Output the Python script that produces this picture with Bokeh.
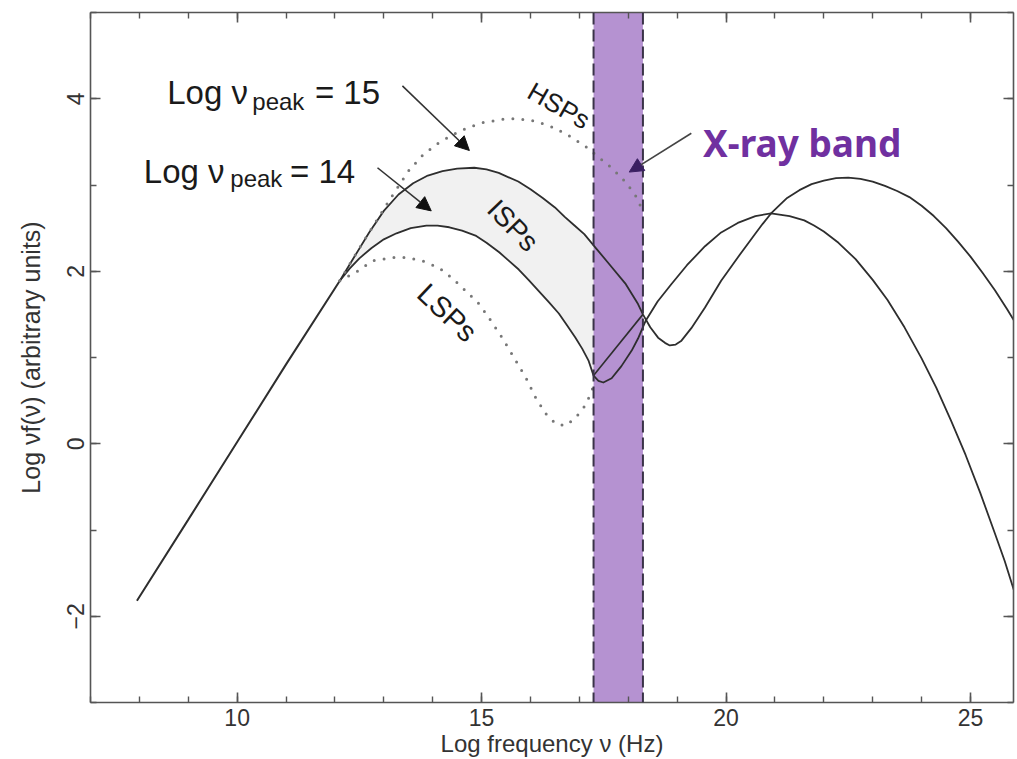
from bokeh.plotting import figure
from bokeh.models import (Range1d, FixedTicker, LinearAxis, Label, Arrow, NormalHead, Span,
                          CustomLabelingPolicy)
from bokeh.embed import file_html
from bokeh.resources import INLINE

# ---------------- data ----------------
X_TICKS = [10, 15, 20, 25]
X_MINOR = list(range(7, 27))
Y_TICKS = [-2, 0, 2, 4]
Y_MINOR = list(range(-3, 6))

# shared low-frequency power law
POWER_X = [7.95, 9.0, 10.0, 11.0, 12.1]
POWER_Y = [-1.82, -0.88, 0.02, 0.92, 1.89]

# Log nu_peak = 15 (upper solid) incl. IC hump
HIGH_X = [12.1, 12.4, 12.7, 13.0, 13.3, 13.6, 13.9, 14.2, 14.5, 14.85, 15.1, 15.35, 15.75,
          16.0, 16.25, 16.5, 16.7, 16.9, 17.1, 17.35, 17.6, 17.95, 18.2, 18.3, 18.45, 18.61,
          18.75, 18.85, 18.97, 19.08, 19.29, 19.57, 19.9, 20.24, 20.59, 20.75, 20.92, 21.1,
          21.25, 21.5, 21.75, 22.0, 22.25, 22.5, 22.75, 23.0, 23.25, 23.5, 23.75, 24.0, 24.25,
          24.5, 24.75, 25.0, 25.25, 25.5, 25.75, 25.89]
HIGH_Y = [1.89, 2.17, 2.45, 2.70, 2.89, 3.02, 3.11, 3.16, 3.19, 3.20, 3.18, 3.14, 3.04,
          2.95, 2.85, 2.74, 2.63, 2.53, 2.43, 2.26, 2.09, 1.85, 1.62, 1.50, 1.35, 1.23,
          1.17, 1.14, 1.15, 1.19, 1.34, 1.58, 1.89, 2.16, 2.43, 2.55, 2.67, 2.77,
          2.85, 2.94, 3.01, 3.05, 3.08, 3.085, 3.07, 3.04, 2.99, 2.93, 2.86, 2.76, 2.64,
          2.50, 2.34, 2.17, 1.98, 1.78, 1.56, 1.43]

# Log nu_peak = 14 (lower solid) incl. IC hump
LOW_X = [12.1, 12.3, 12.5, 12.75, 13.0, 13.26, 13.55, 13.87, 14.1, 14.34, 14.6, 14.89, 15.1,
         15.36, 15.56, 15.76, 15.96, 16.17, 16.38, 16.58, 16.75, 16.92, 17.06, 17.19, 17.29,
         17.39, 17.49, 17.66, 17.86, 18.07, 18.2, 18.35, 18.6, 18.88, 19.2, 19.57, 19.9,
         20.24, 20.6, 20.92, 21.3, 21.6, 21.8, 22.0, 22.3, 22.65, 23.0, 23.3, 23.65, 24.0,
         24.3, 24.6, 24.9, 25.2, 25.5, 25.7, 25.89]
LOW_Y = [1.89, 2.03, 2.15, 2.27, 2.37, 2.44, 2.50, 2.53, 2.53, 2.51, 2.47, 2.41, 2.33,
         2.22, 2.12, 2.02, 1.90, 1.77, 1.64, 1.51, 1.37, 1.23, 1.10, 0.96, 0.79,
         0.73, 0.71, 0.76, 0.90, 1.08, 1.22, 1.42, 1.65, 1.85, 2.07, 2.29, 2.45,
         2.56, 2.64, 2.67, 2.64, 2.59, 2.53, 2.46, 2.33, 2.14, 1.90, 1.67, 1.35, 0.99,
         0.65, 0.27, -0.13, -0.57, -1.04, -1.36, -1.70]

# HSPs (dotted, upper)
HSP_X = [12.1, 12.5, 12.9, 13.2, 13.5, 13.8, 14.1, 14.4, 14.7, 15.0, 15.4, 15.72, 16.1, 16.5,
         16.85, 17.17, 17.4, 17.66, 17.9, 18.13, 18.3]
HSP_Y = [1.89, 2.27, 2.63, 2.90, 3.16, 3.35, 3.48, 3.58, 3.66, 3.72, 3.76, 3.77, 3.74, 3.66,
         3.55, 3.43, 3.32, 3.20, 3.06, 2.90, 2.70]

# LSPs (dotted, lower)
LSP_X = [12.1, 12.46, 12.77, 13.18, 13.46, 13.79, 14.13, 14.40, 14.68, 14.95, 15.15, 15.42,
         15.62, 15.91, 16.11, 16.31, 16.52, 16.72, 16.92, 17.09, 17.19, 17.27]
LSP_Y = [1.89, 2.00, 2.12, 2.16, 2.16, 2.12, 2.04, 1.92, 1.77, 1.62, 1.46, 1.23,
         1.04, 0.76, 0.53, 0.35, 0.23, 0.21, 0.30, 0.42, 0.53, 0.64]

# X-ray band (log Hz)
BAND = [17.29, 18.3]

# ---------------- figure ----------------
FONT = "Liberation Sans"
AX_COL = "#555555"
TXT_COL = "#333333"
LINE_COL = "#2e2e2e"

p = figure(width=1017, height=759, output_backend="svg", toolbar_location=None,
           x_range=Range1d(7, 25.88), y_range=Range1d(-3, 5),
           min_border_left=90, min_border_top=12, min_border_right=0, min_border_bottom=0,
           x_axis_label="Log frequency ν (Hz)", y_axis_label="Log νf(ν) (arbitrary units)")
p.grid.visible = False
p.outline_line_color = None
p.background_fill_color = "white"
p.border_fill_color = "white"

p.add_layout(LinearAxis(), "above")
p.add_layout(LinearAxis(), "right")

for ax in p.xaxis:
    ax.ticker = FixedTicker(ticks=X_TICKS, minor_ticks=X_MINOR)
for ax in p.yaxis:
    ax.ticker = FixedTicker(ticks=Y_TICKS, minor_ticks=Y_MINOR)

for ax in p.axis:
    ax.axis_line_color = AX_COL
    ax.axis_line_width = 1.6
    ax.major_tick_line_color = AX_COL
    ax.major_tick_line_width = 1.6
    ax.minor_tick_line_color = AX_COL
    ax.minor_tick_line_width = 1.4
    ax.major_tick_in = 10
    ax.major_tick_out = 0
    ax.minor_tick_in = 6
    ax.minor_tick_out = 0
    ax.major_label_text_font = FONT
    ax.major_label_text_font_size = "23px"
    ax.major_label_text_color = TXT_COL
    ax.axis_label_text_font = FONT
    ax.axis_label_text_font_style = "normal"
    ax.axis_label_text_color = TXT_COL

# mirrored axes: ticks only, no labels
for ax in (p.above[0], p.right[0]):
    ax.major_label_text_font_size = "1px"
    ax.major_label_standoff = 0
    ax.major_label_policy = CustomLabelingPolicy(code="return []")
    ax.axis_label = None

p.below[0].major_label_standoff = 6
p.below[0].axis_label_standoff = 1
p.below[0].axis_label_text_font_size = "24px"
p.left[0].major_label_orientation = "vertical"
p.left[0].major_label_standoff = 7
p.left[0].axis_label_standoff = 19
p.left[0].axis_label_text_font_size = "25px"

# ---------------- ISP shaded region ----------------
hi_pts = [(x, y) for x, y in zip(HIGH_X, HIGH_Y) if x <= BAND[1]]
lo_pts = [(x, y) for x, y in zip(LOW_X, LOW_Y) if x <= BAND[0]]
poly = hi_pts + lo_pts[::-1]
p.patch([q[0] for q in poly], [q[1] for q in poly], fill_color="#f1f1f1", line_color=None)

# ---------------- X-ray band ----------------
p.quad(left=[BAND[0]], right=[BAND[1]], bottom=[-3], top=[5],
       fill_color="#b592d1", line_color=None)

# ---------------- curves ----------------
p.line(POWER_X, POWER_Y, line_color=LINE_COL, line_width=2)
p.line(HIGH_X, HIGH_Y, line_color=LINE_COL, line_width=1.8, line_join="round")
p.line(LOW_X, LOW_Y, line_color=LINE_COL, line_width=1.8, line_join="round")
# straight edge closing the ISP region
p.line([hi_pts[-1][0], lo_pts[-1][0]], [hi_pts[-1][1], lo_pts[-1][1]],
       line_color=LINE_COL, line_width=1.6)
p.line(HSP_X, HSP_Y, line_color="#777777", line_width=3, line_dash="0 10", line_cap="round")
p.line(LSP_X, LSP_Y, line_color="#777777", line_width=3, line_dash="0 10", line_cap="round")

# dashed band edges
for xb in BAND:
    p.add_layout(Span(location=xb, dimension="height", line_color="#3a3348",
                      line_width=2, line_dash="12 5"))

# ---------------- annotations ----------------
def lab(x, y, t, size, **kw):
    opts = dict(x=x, y=y, text=t, text_font=FONT, text_font_size=size,
                text_color="#1a1a1a", text_align="left", text_baseline="alphabetic")
    opts.update(kw)
    p.add_layout(Label(**opts))

lab(8.57, 4.07, "Log ν", "33px")
lab(10.31, 3.97, "peak", "24px")
lab(11.59, 4.07, "= 15", "33px")

lab(8.09, 3.16, "Log ν", "33px")
lab(9.86, 3.07, "peak", "24px")
lab(11.08, 3.16, "= 14", "33px")

lab(16.58, 3.92, "HSPs", "26px", text_align="center", text_baseline="middle", angle=-0.52)
lab(15.64, 2.53, "ISPs", "28px", text_align="center", text_baseline="middle", angle=-0.80)
lab(14.30, 1.52, "LSPs", "29px", text_align="center", text_baseline="middle", angle=-0.76)

p.add_layout(Label(x=19.53, y=3.49, text="X-ray band", text_font="Noto Sans",
                   text_font_size="37px", text_font_style="bold", text_color="#7030a0",
                   text_baseline="alphabetic"))

def arrow(x0, y0, x1, y1, col, head_col):
    p.add_layout(Arrow(x_start=x0, y_start=y0, x_end=x1, y_end=y1,
                       line_color=col, line_width=1.6,
                       end=NormalHead(size=14, fill_color=head_col, line_color=head_col,
                                      line_width=1)))

arrow(13.38, 4.15, 14.75, 3.40, "#333333", "#111111")
arrow(12.87, 3.20, 13.97, 2.70, "#333333", "#111111")
arrow(19.29, 3.60, 18.02, 3.15, "#444444", "#3a1f62")

open("out.html", "w").write(file_html(p, INLINE))
